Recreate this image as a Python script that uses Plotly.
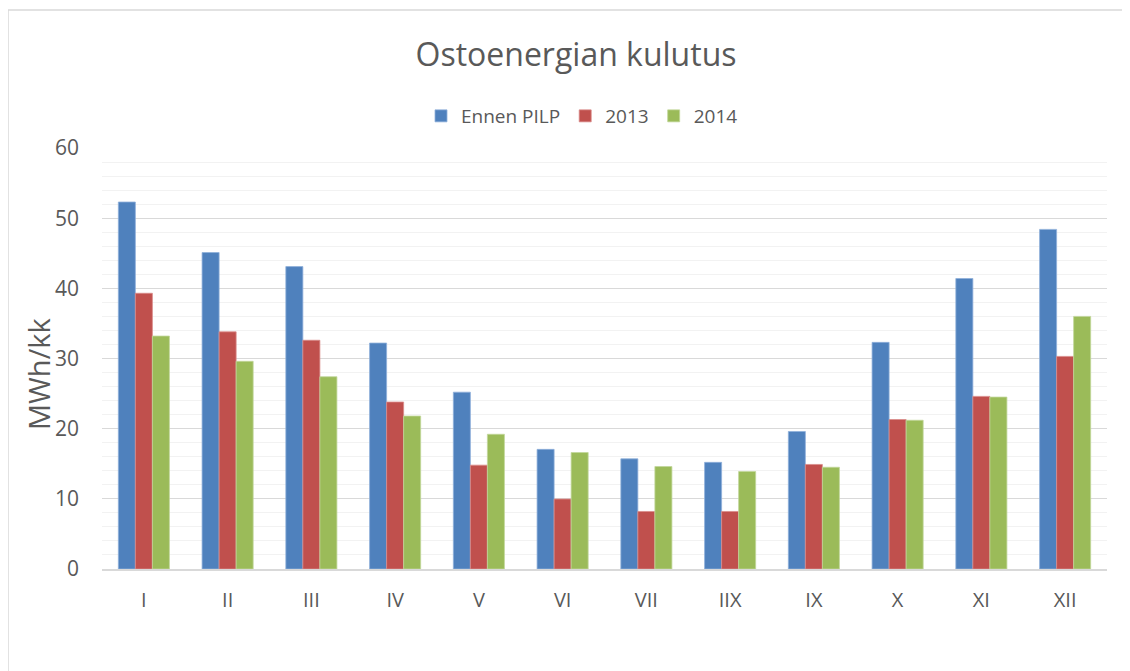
import plotly.graph_objects as go

months = ["I", "II", "III", "IV", "V", "VI", "VII", "IIX", "IX", "X", "XI", "XII"]
ennen_pilp = [52.3, 45.1, 43.1, 32.2, 25.2, 17.05, 15.7, 15.2, 19.6, 32.3, 41.4, 48.4]
y2013 = [39.3, 33.8, 32.6, 23.8, 14.8, 9.97, 8.2, 8.2, 14.9, 21.3, 24.6, 30.3]
y2014 = [33.2, 29.6, 27.4, 21.8, 19.2, 16.6, 14.6, 13.9, 14.5, 21.2, 24.5, 36.0]

names = ["Ennen PILP", "2013", "2014"]
colors = ["#4F81BD", "#C0504D", "#9BBB59"]
edges = ["#8FB0DA", "#D98C8A", "#C2D79A"]

FONT = "Open Sans, Liberation Sans, Arial, sans-serif"
GRAY = "#595959"

# page offset of 8px (browser body margin) is compensated here
OFF = 8
W, H = 1130 - OFF, 671 - OFF
L, T = 102 - OFF, 148 - OFF
R = 1130 - 1107
B = 671 - 569
PW = W - L - R
PH = H - T - B

fig = go.Figure()
for name, vals, c, e in zip(names, [ennen_pilp, y2013, y2014], colors, edges):
    fig.add_trace(go.Bar(x=months, y=vals, name=name, marker_color=c,
                         marker_line=dict(color=e, width=0.8)))

fig.update_layout(
    width=W, height=H,
    margin=dict(l=L, r=R, t=T, b=B),
    paper_bgcolor="white", plot_bgcolor="white",
    barmode="group", bargap=0.39, bargroupgap=0,
    font=dict(family=FONT, color=GRAY),
    title=dict(text="Ostoenergian kulutus", x=(576 - OFF) / W, xanchor="center",
               y=1 - (55 - OFF) / H, yanchor="middle",
               font=dict(size=32, color=GRAY, family=FONT)),
    legend=dict(orientation="h", x=(582 - 102) / PW, xanchor="center", y=(569 - 116) / PH,
                yanchor="middle", font=dict(size=19, color=GRAY),
                itemwidth=30, traceorder="normal"),
    xaxis=dict(showgrid=False, showline=True, linecolor="#D9D9D9", linewidth=1.5,
               tickfont=dict(size=20, color=GRAY), ticks="", ticklabelstandoff=12),
    yaxis=dict(range=[0, 60], dtick=10, showgrid=True, gridcolor="#D9D9D9", gridwidth=1.3,
               zeroline=False, tickfont=dict(size=21, color=GRAY),
               minor=dict(dtick=2, showgrid=True, gridcolor="#F2F2F2", gridwidth=1.3),
               ticklabelstandoff=22),
    annotations=[dict(text="MWh/kk", textangle=-90, xref="paper", yref="paper",
                      x=(38 - 102) / PW, y=(569 - 374) / PH, xanchor="center",
                      yanchor="middle", showarrow=False,
                      font=dict(size=29, color=GRAY, family=FONT))],
)

# chart-area border (top and left edges visible)
bx = (8 - 102) / PW
by = (569 - 10) / PH
fig.add_shape(type="line", xref="paper", yref="paper",
              x0=bx, x1=(1130 - 102) / PW, y0=by, y1=by,
              line=dict(color="#D9D9D9", width=1.5))
fig.add_shape(type="line", xref="paper", yref="paper",
              x0=bx, x1=bx, y0=by, y1=(569 - 680) / PH,
              line=dict(color="#D9D9D9", width=1.5))

fig.write_html("out.html")
